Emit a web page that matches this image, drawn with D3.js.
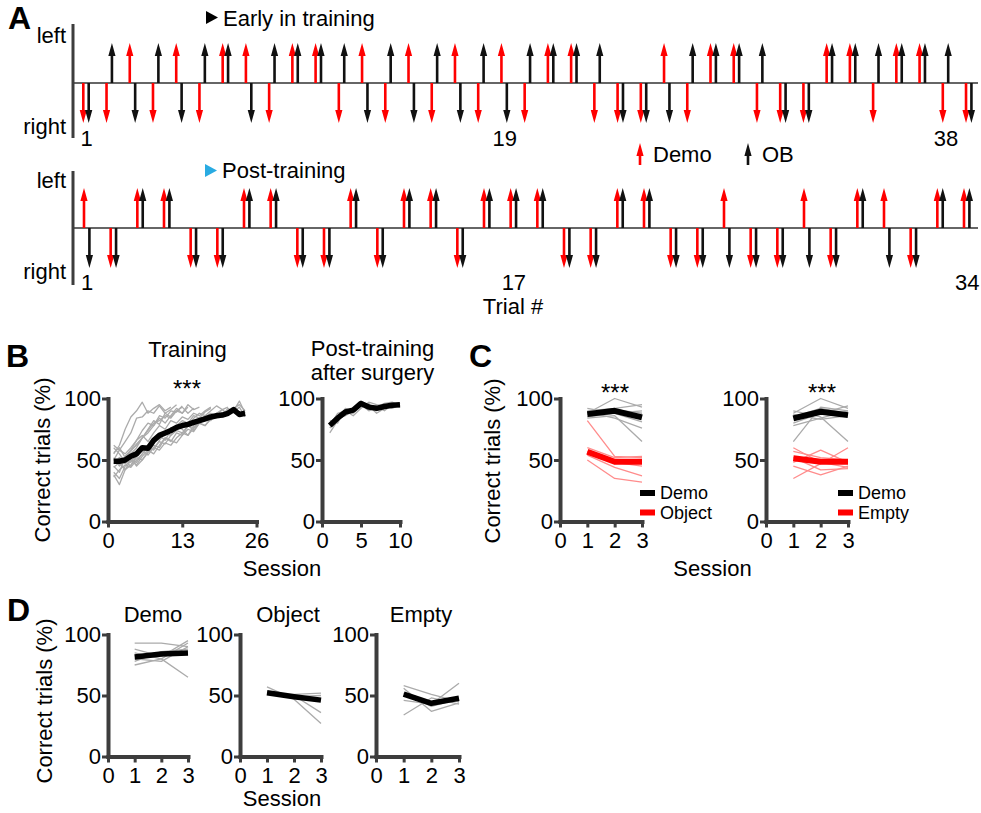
<!DOCTYPE html>
<html><head><meta charset="utf-8">
<script src="https://cdn.jsdelivr.net/npm/d3@7"></script>
<style>body{margin:0;background:#fff}</style>
</head><body><svg id="c" width="981" height="813"></svg>
<script>
// ---------------- DATA ----------------
// Panel A: side chosen per trial ("L" = left, "R" = right)
const earlyDemo = ["R","R","L","R","L","R","L","L","R","L","L","R","L","R","L","R","L","R","L","R","L","L","R","R","R","L","R","L","L","R","R","R","L","L","R","L","L","R","R"];
const earlyOB   = ["R","L","R","L","R","L","L","R","L","L","L","L","R","L","R","L","R","L","R","L","L","L","L","R","R","R","L","L","L","L","R","R","L","L","L","L","L","L","R"];
const postDemo  = ["L","R","L","L","R","R","L","L","R","R","L","R","L","L","R","L","L","L","R","R","L","L","R","R","L","R","R","L","R","L","L","R","L","L"];
const postOB    = ["R","R","L","L","R","R","L","L","R","R","L","R","L","L","R","L","L","L","R","R","L","L","R","R","R","R","R","R","R","L","R","R","L","L"];
const earlyTicks = [1, 19, 38];
const postTicks = [1, 17, 34];

// Panel B: training (individual mice, session 1..n) and mean
const trainMice = [
  [55,62,75,85,90,97,88,92,95,90,93],
  [50,58,65,72,84,85,90,88,94,88,91,95],
  [45,40,52,58,66,74,80,78,86,84,90,89,94],
  [48,50,47,55,60,68,75,82,79,88,85,90,93,88,92],
  [40,35,45,50,48,55,62,58,66,72,70,78,82,80,86,84,89,92],
  [52,45,50,48,55,58,54,60,65,63,70,74,72,78,76,82,85,88,86,91],
  [60,55,48,52,45,50,57,62,60,68,66,64,70,75,73,80,78,84,88,85,90,92],
  [38,30,42,46,52,50,56,60,58,64,62,68,72,70,76,80,78,83,87,85,89,90,98,88],
  [47,52,49,45,54,58,62,67,70,66,74,77,75,70,78,82,86,84,88,91,87,92,95,90],
  [62,58,55,60,66,70,65,72,78,75,82,80,85,83,88,86,90,93],
  [44,48,42,50,46,53,58,55,62,68,65,72,70,78,74,80,84,82,88,86,92,89,93,85],
  [50,46,53,58,62,68,74,80,82,86,84,90,88,93],
  [36,42,46,44,50,55,60,64,68,72,76,74,80,78,84,88,86,90,94,91,93],
  [56,60,52,57,63,68,72,78,84,80,86,92,88,95,91,93]
];
const trainMean = [49,49,50,53,55,60,59.5,66,70,72,74,76.5,78,79,80.5,82,83.5,85,86,86.5,88,91,87,88];
const trainTicks = [0, 13, 26];

// Panel B: post-training after surgery
const postMice = [
  [72,82,90,88,98,92,94,90,95,96],
  [80,86,88,92,94,96,90,94,92,95],
  [76,84,86,90,95,90,93,96,97,94],
  [82,80,92,90,96,94,88,92,95,93],
  [78,88,90,86,92,97,95,94,93,96]
];
const postMean = [78,84,89,90.5,96,93,92,93.5,94.5,95];
const postTicksB = [0, 5, 10];

// Panel C (sessions 1..3)
const cDemoMiceA = [[88,100,93],[90,92,95],[85,88,90],[92,88,81],[84,86,65],[87,91,88],[89,84,76]];
const cDemoMeanA = [87.3,90,84.6];
const cObjectMice = [[82,53,52],[60,52,53],[57,47,48],[54,44,37],[50,35,32],[55,48,45]];
const cObjectMean = [56.7,48.6,48.6];
const cDemoMiceB = [[65,93,90],[88,100,92],[90,85,65],[80,88,94],[85,92,88],[78,84,90],[87,83,86]];
const cDemoMeanB = [83.8,89.2,86.5];
const cEmptyMice = [[60,48,44],[57,52,50],[48,58,48],[35,47,60],[45,38,45],[52,42,43]];
const cEmptyMean = [51.4,48.6,48.6];
const sessionTicks = [0, 1, 2, 3];

// Panel D
const dDemoMice = [[93,93,90],[88,82,95],[85,80,93],[78,86,88],[75,80,65],[80,78,90]];
const dDemoMean = [81.6,84.1,84.9];
const dObjectMice = [[57,47,27],[52,50,36],[51,51,52],[53,49,50]];
const dObjectMean = [52.2,49,46.2];
const dEmptyMice = [[58,51,45],[56,37,44],[46,43,60],[34,48,43],[52,41,47]];
const dEmptyMean = [51.2,43.6,47.7];
const yTicks = [0, 50, 100];

// ---------------- DRAWING ----------------
const FONT = '"Liberation Sans", Arial, Helvetica, sans-serif';
const svg = d3.select("#c").style("font-family", FONT);
const AX = "#3d3d3d";
const RED = "#ff0000";

function txt(x, y, s, opt = {}) {
  return svg.append("text").attr("x", x).attr("y", y).text(s)
    .attr("font-size", opt.size || 22).attr("font-weight", opt.weight || "normal")
    .attr("text-anchor", opt.anchor || "start").attr("fill", opt.fill || "#000")
    .attr("font-family", FONT);
}

// ---- Panel A ----
function arrowPath(x, y0, tip) {
  const dir = tip < y0 ? -1 : 1;
  const hb = tip - dir * 13;
  return `M${x-1.3},${y0}L${x-1.3},${hb}L${x-3.6},${hb}L${x},${tip}L${x+3.6},${hb}L${x+1.3},${hb}L${x+1.3},${y0}Z`;
}
function trialRow(cfg) {
  const x = d3.scaleLinear().domain([1, cfg.ticks[cfg.ticks.length - 1]]).range(cfg.xRange);
  const y = d3.scaleOrdinal().domain(["L", "R"]).range([cfg.base - 40, cfg.base + 40]);
  const g = svg.append("g");
  g.append("line").attr("x1", 73).attr("x2", 978).attr("y1", cfg.base).attr("y2", cfg.base)
    .attr("stroke", "#333").attr("stroke-width", 1.6);
  g.append("line").attr("x1", 73).attr("x2", 73).attr("y1", cfg.axTop).attr("y2", cfg.axBot)
    .attr("stroke", AX).attr("stroke-width", 3);
  cfg.demo.forEach((s, i) => {
    g.append("path").attr("d", arrowPath(x(i + 1) - 2.7, cfg.base, y(s))).attr("fill", RED);
    g.append("path").attr("d", arrowPath(x(i + 1) + 2.7, cfg.base, y(cfg.ob[i]))).attr("fill", "#111");
  });
  const ax = g.append("g").attr("transform", `translate(0,${cfg.labTop})`)
    .call(d3.axisBottom(x).tickValues(cfg.ticks).tickSize(0).tickPadding(0).tickFormat(d3.format("d")));
  ax.select(".domain").remove();
  ax.selectAll("text").attr("font-size", 22).attr("fill", "#000").attr("font-family", FONT);
  txt(66, cfg.base - 40, "left", { anchor: "end" });
  txt(66, cfg.base + 51, "right", { anchor: "end" });
}
trialRow({ demo: earlyDemo, ob: earlyOB, ticks: earlyTicks, xRange: [86, 945.5], base: 83, axTop: 24, axBot: 138, labTop: 130 });
trialRow({ demo: postDemo, ob: postOB, ticks: postTicks, xRange: [86.7, 966.7], base: 228, axTop: 171, axBot: 285, labTop: 274 });

txt(8, 29, "A", { size: 32, weight: "bold" });
svg.append("path").attr("d", "M206,11L218,17.5L206,24Z").attr("fill", "#000");
txt(223, 26, "Early in training");
svg.append("path").attr("d", "M205,164L217,170.5L205,177Z").attr("fill", "#29abe2");
txt(222, 178, "Post-training");
txt(513, 314, "Trial #", { anchor: "middle" });
// legend A
svg.append("path").attr("d", arrowPath(640, 165, 143)).attr("fill", RED);
txt(653, 162, "Demo");
svg.append("path").attr("d", arrowPath(748, 165, 143)).attr("fill", "#111");
txt(762, 162, "OB");

// ---- line charts ----
function styleAxis(g) {
  g.select(".domain").attr("stroke", AX).attr("stroke-width", 4).attr("stroke-linecap", "square");
  g.selectAll(".tick line").attr("stroke", AX).attr("stroke-width", 3);
  g.selectAll(".tick text").attr("font-size", 22).attr("fill", "#000").attr("font-family", FONT);
}
function chart(cfg) {
  const x = d3.scaleLinear().domain(cfg.xDomain).range([cfg.left, cfg.right]);
  const y = d3.scaleLinear().domain([0, 100]).range([cfg.bottom, cfg.top]);
  const g = svg.append("g");
  const line = d3.line().x((d, i) => x(i + 1)).y(d => y(d));
  cfg.lines.forEach(ln => {
    g.append("path").attr("d", line(ln.values)).attr("fill", "none")
      .attr("stroke", ln.color).attr("stroke-width", ln.width).attr("stroke-linejoin", "round");
  });
  const ya = g.append("g").attr("transform", `translate(${cfg.left},0)`)
    .call(d3.axisLeft(y).tickValues(yTicks).tickSize(6).tickSizeOuter(0).tickPadding(1).tickFormat(d3.format("d")));
  const xa = g.append("g").attr("transform", `translate(0,${cfg.bottom})`)
    .call(d3.axisBottom(x).tickValues(cfg.xTicks).tickSize(6).tickSizeOuter(0).tickPadding(5).tickFormat(d3.format("d")));
  styleAxis(ya); styleAxis(xa);
  return { x, y };
}
const GRAY = "#ababab", LRED = "#ff8c8c";
const grayLines = (arr, c) => arr.map(v => ({ values: v, color: c || GRAY, width: 1.3 }));

// Panel B
chart({ left: 108, right: 256.5, xDomain: [0, 26], xTicks: trainTicks, top: 398.5, bottom: 521.5,
  lines: [...grayLines(trainMice), { values: trainMean, color: "#000", width: 5.5 }] });
chart({ left: 322, right: 400, xDomain: [0, 10], xTicks: postTicksB, top: 398.5, bottom: 521.5,
  lines: [...grayLines(postMice), { values: postMean, color: "#000", width: 5.5 }] });
txt(6, 367, "B", { size: 32, weight: "bold" });
txt(187.5, 357, "Training", { anchor: "middle" });
txt(187, 397, "***", { anchor: "middle", size: 24 });
txt(372.5, 356, "Post-training", { anchor: "middle" });
txt(372.5, 380, "after surgery", { anchor: "middle" });
txt(282, 576, "Session", { anchor: "middle" });
txt(0, 0, "Correct trials (%)", { anchor: "middle" }).attr("transform", "translate(50,460) rotate(-90)");

// Panel C
chart({ left: 560, right: 642, xDomain: [0, 3], xTicks: sessionTicks, top: 398.5, bottom: 521.5,
  lines: [...grayLines(cDemoMiceA), ...grayLines(cObjectMice, LRED),
    { values: cDemoMeanA, color: "#000", width: 6 }, { values: cObjectMean, color: RED, width: 6 }] });
chart({ left: 766, right: 848, xDomain: [0, 3], xTicks: sessionTicks, top: 398.5, bottom: 521.5,
  lines: [...grayLines(cDemoMiceB), ...grayLines(cEmptyMice, LRED),
    { values: cDemoMeanB, color: "#000", width: 6 }, { values: cEmptyMean, color: RED, width: 6 }] });
txt(469, 367, "C", { size: 32, weight: "bold" });
txt(615, 401, "***", { anchor: "middle", size: 24 });
txt(822, 401, "***", { anchor: "middle", size: 24 });
txt(712.5, 576, "Session", { anchor: "middle" });
txt(0, 0, "Correct trials (%)", { anchor: "middle" }).attr("transform", "translate(500,461) rotate(-90)");
function legendC(x0, items) {
  items.forEach((it, i) => {
    const yy = 493 + i * 19.5;
    svg.append("line").attr("x1", x0).attr("x2", x0 + 15).attr("y1", yy).attr("y2", yy)
      .attr("stroke", it.color).attr("stroke-width", 6);
    txt(x0 + 20, yy + 6, it.label, { size: 18 });
  });
}
legendC(640, [{ label: "Demo", color: "#000" }, { label: "Object", color: RED }]);
legendC(838, [{ label: "Demo", color: "#000" }, { label: "Empty", color: RED }]);

// Panel D
chart({ left: 108, right: 188, xDomain: [0, 3], xTicks: sessionTicks, top: 634.5, bottom: 756.5,
  lines: [...grayLines(dDemoMice), { values: dDemoMean, color: "#000", width: 5.5 }] });
chart({ left: 240, right: 321, xDomain: [0, 3], xTicks: sessionTicks, top: 634.5, bottom: 756.5,
  lines: [...grayLines(dObjectMice), { values: dObjectMean, color: "#000", width: 5.5 }] });
chart({ left: 376, right: 459, xDomain: [0, 3], xTicks: sessionTicks, top: 634.5, bottom: 756.5,
  lines: [...grayLines(dEmptyMice), { values: dEmptyMean, color: "#000", width: 5.5 }] });
txt(7, 621, "D", { size: 32, weight: "bold" });
txt(153, 622, "Demo", { anchor: "middle" });
txt(288, 622, "Object", { anchor: "middle" });
txt(421, 622, "Empty", { anchor: "middle" });
txt(282, 806, "Session", { anchor: "middle" });
txt(0, 0, "Correct trials (%)", { anchor: "middle" }).attr("transform", "translate(52,701) rotate(-90)");
</script>
</body></html>
